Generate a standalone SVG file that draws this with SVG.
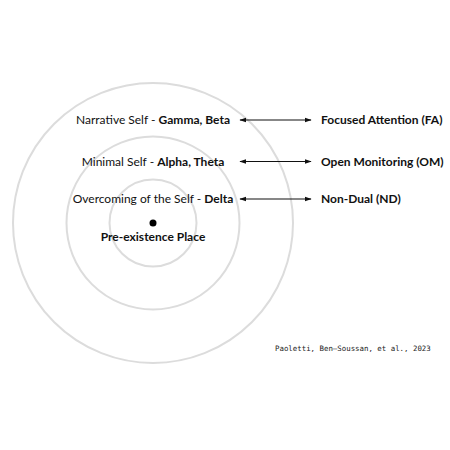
<svg xmlns="http://www.w3.org/2000/svg" width="450" height="450" viewBox="0 0 450 450">
<defs>
<style>
.ring{fill:none;stroke:#dcdcdc;stroke-width:2}
.t{font-family:Lato,"Liberation Sans",sans-serif;font-size:12px;fill:#111}
.b{font-weight:bold}
.c{text-anchor:middle}
.cite{font-family:"DejaVu Sans Mono","Liberation Mono",monospace;font-size:7.4px;fill:#222}
.conn{stroke:#111;stroke-width:1.2;fill:none}
</style>
<marker id="ah" viewBox="0 0 10 10" refX="9" refY="5" markerWidth="7" markerHeight="7" orient="auto-start-reverse" markerUnits="userSpaceOnUse">
<path d="M0,1.5 L10,5 L0,8.5 Z" fill="#111"/>
</marker>
</defs>
<rect width="450" height="450" fill="#fff"/>
<g id="rings">
<circle class="ring" cx="153" cy="223" r="140"/>
<circle class="ring" cx="153" cy="223" r="86.5"/>
<circle class="ring" cx="153" cy="223" r="43.5"/>
</g>
<g id="center">
<circle cx="153" cy="223" r="3.5" fill="#000"/>
<text class="t b c" x="153" y="240.5">Pre-existence Place</text>
</g>
<g id="narrative"><text class="t c" x="153" y="124.2">Narrative Self - <tspan class="b">Gamma, Beta</tspan></text></g>
<g id="minimal"><text class="t c" x="153" y="165.5">Minimal Self - <tspan class="b">Alpha, Theta</tspan></text></g>
<g id="overcoming"><text class="t c" x="153" y="203.3">Overcoming of the Self - <tspan class="b">Delta</tspan></text></g>
<g id="fa"><text class="t b" x="321" y="124.2">Focused Attention (FA)</text></g>
<g id="om"><text class="t b" x="321" y="165.5">Open Monitoring (OM)</text></g>
<g id="nd"><text class="t b" x="321" y="203.3">Non-Dual (ND)</text></g>
<g id="connectors">
<line class="conn" x1="240" y1="120" x2="311" y2="120" marker-start="url(#ah)" marker-end="url(#ah)"/>
<line class="conn" x1="240" y1="161.5" x2="311" y2="161.5" marker-start="url(#ah)" marker-end="url(#ah)"/>
<line class="conn" x1="240" y1="199" x2="311" y2="199" marker-start="url(#ah)" marker-end="url(#ah)"/>
</g>
<text class="cite" x="275" y="350.5">Paoletti, Ben–Soussan, et al., 2023</text>
</svg>
